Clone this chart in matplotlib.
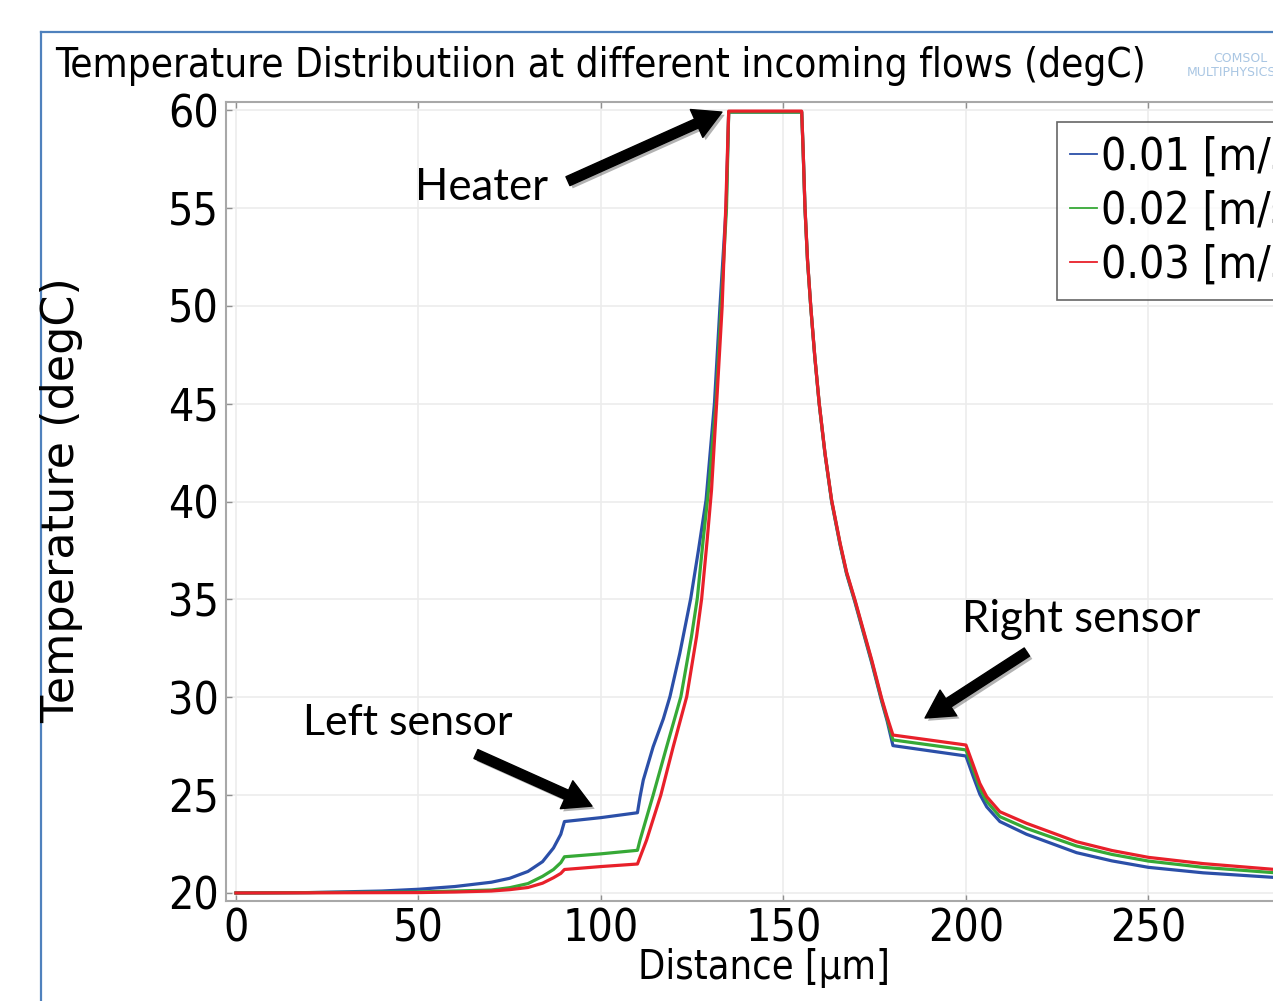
import matplotlib
matplotlib.use('Agg')
import matplotlib.pyplot as plt
import matplotlib.patheffects as pe
from matplotlib import font_manager
from matplotlib.font_manager import FontProperties
from matplotlib.lines import Line2D

# series data (x in µm, T in degC)
x_blue = [0, 20, 40, 50, 60, 70, 75, 80, 84, 87, 89, 90, 100, 110,
          110.7, 111.6, 114.3, 117.1, 118.9, 121.6, 124.6, 126.7, 128.8,
          131.1, 132.6, 134.3, 135,
          155, 155.4, 155.9, 156.6, 157.5, 158.6, 159.8, 161.4, 163.2, 165.5,
          167.3, 169.6, 171.9, 174.2, 176.9, 178.4, 180,
          200, 202, 203.8, 205.7, 209.3, 216.6, 230.3, 240, 250, 265, 284.1, 300]
t_blue = [20, 20.02, 20.1, 20.19, 20.33, 20.55, 20.75, 21.1, 21.6, 22.3, 23.0, 23.65, 23.85, 24.1,
          24.9, 25.77, 27.47, 28.9, 30.03, 32.24, 35.05, 37.5, 40.08,
          45.03, 49.94, 55.05, 59.9,
          59.9, 57.9, 55.0, 52.3, 49.9, 47.35, 44.98, 42.4, 40.0, 37.8,
          36.3, 34.85, 33.3, 31.75, 29.8, 28.8, 27.53,
          27.0, 25.95, 25.05, 24.4, 23.65, 23.0, 22.06, 21.64, 21.31, 21.03, 20.8, 20.65]

x_green = [0, 50, 60, 70, 75, 80, 84, 87, 89, 90, 100, 110,
           110.7, 114.3, 118.0, 121.9, 124.8, 126.4, 128.0, 129.6, 131.5, 132.9, 134.4, 135,
           155, 155.4, 155.9, 156.6, 157.5, 158.6, 159.8, 161.4, 163.2, 165.5,
           167.3, 169.6, 171.9, 174.2, 176.9, 178.4, 180,
           200, 202, 203.8, 205.7, 209.3, 216.6, 230.3, 240, 250, 265, 284.1, 300]
t_green = [20, 20.05, 20.1, 20.15, 20.27, 20.48, 20.85, 21.2, 21.55, 21.85, 22.0, 22.18,
           22.7, 25.0, 27.47, 30.03, 33.1, 35.05, 38.03, 40.8, 45.0, 49.9, 55.0, 59.9,
           59.9, 57.9, 55.0, 52.3, 49.9, 47.38, 45.0, 42.43, 40.04, 37.85,
           36.35, 34.92, 33.37, 31.83, 29.88, 28.9, 27.82,
           27.31, 26.3, 25.35, 24.68, 23.9, 23.3, 22.4, 21.97, 21.63, 21.31, 21.04, 20.9]

x_red = [0, 50, 60, 70, 75, 80, 84, 87, 89, 90, 100, 110,
         112.5, 116.4, 119.8, 123.5, 126.2, 127.6, 129.1, 130.3, 131.7, 133.2, 134.2, 135,
         155, 155.4, 155.9, 156.6, 157.5, 158.6, 159.8, 161.4, 163.2, 165.5,
         167.3, 169.6, 171.9, 174.2, 176.9, 178.4, 180,
         200, 202, 203.8, 205.7, 209.3, 216.6, 230.3, 240, 250, 265, 284.1, 300]
t_red = [20, 20.02, 20.05, 20.1, 20.17, 20.28, 20.5, 20.78, 21.0, 21.2, 21.35, 21.48,
         22.7, 25.0, 27.47, 30.03, 33.1, 35.05, 38.03, 40.6, 45.03, 49.94, 55.05, 59.95,
         59.95, 57.96, 55.05, 52.34, 49.94, 47.4, 45.03, 42.46, 40.08, 37.9,
         36.4, 34.97, 33.43, 31.9, 29.95, 29.0, 28.07,
         27.56, 26.54, 25.6, 24.92, 24.15, 23.56, 22.62, 22.17, 21.82, 21.5, 21.21, 21.05]

labels = ['0.01 [m/s]', '0.02 [m/s]', '0.03 [m/s]']
colors = ['#2b4fa8', '#36a936', '#e8202a']
xticks = [0, 50, 100, 150, 200, 250, 300]
yticks = [20, 25, 30, 35, 40, 45, 50, 55, 60]

# narrow face for ticks / title, as in the COMSOL export
cond_path = font_manager.findfont(FontProperties(family='DejaVu Sans', stretch='condensed'))
if 'Condensed' in cond_path:
    narrow = dict(family='DejaVu Sans', stretch='condensed')
else:
    narrow = dict(family='Liberation Sans')

fig = plt.figure(figsize=(12.73, 10.01), dpi=100)
ax = fig.add_axes([0.1775, 0.0999, 0.868, 0.7981])

for xs, ts, c, lab in zip([x_blue, x_green, x_red], [t_blue, t_green, t_red], colors, labels):
    ax.plot(xs, ts, color=c, lw=2.3, label=lab)

ax.set_xlim(-2.74, 300)
ax.set_ylim(19.59, 60.41)
ax.set_xticks(xticks)
ax.set_yticks(yticks)
ax.grid(True, color='#ececec', lw=1.2)
ax.set_axisbelow(True)
for s in ax.spines.values():
    s.set_color('#a8a8a8')
    s.set_linewidth(1.5)
ax.tick_params(direction='in', length=4, width=1, color='#909090',
               top=True, right=True, labelsize=32, pad=5)
for lbl in ax.get_xticklabels() + ax.get_yticklabels():
    lbl.set_fontproperties(FontProperties(size=32, **narrow))

# legend (cut at the right edge like the reference)
leg = ax.legend(loc='upper left', bbox_to_anchor=(1057 / 1273, 1 - 122 / 1001),
                bbox_transform=fig.transFigure, borderaxespad=0,
                prop=FontProperties(size=32, **narrow), frameon=True, fancybox=False,
                handlelength=0.6, handletextpad=0.1, labelspacing=0.25,
                borderpad=0.3)
leg.get_frame().set_edgecolor('#404040')
leg.get_frame().set_linewidth(1.2)
for h in leg.get_lines():
    h.set_linewidth(1.3)

# annotations
ann_font = 'Lato'
ax.text(49.04, 55.40, 'Heater', fontsize=31.5, family=ann_font, va='baseline')
ax.text(18.36, 28.07, 'Left sensor', fontsize=31, family=ann_font, va='baseline')
ax.text(198.9, 33.33, 'Right sensor', fontsize=31.5, family=ann_font, va='baseline')

arrow_kw = dict(facecolor='black', edgecolor='black', width=7, headwidth=22,
                headlength=20, shrink=0)
shadow = [pe.SimplePatchShadow(offset=(2, -2), alpha=0.3), pe.Normal()]
for tail, head in [((90.96, 56.37), (133.15, 59.90)),
                   ((65.75, 27.10), (97.53, 24.44)),
                   ((216.7, 32.31), (188.8, 28.94))]:
    a = ax.annotate('', xy=head, xytext=tail, arrowprops=arrow_kw)
    a.arrow_patch.set_path_effects(shadow)

# titles and axis labels
title = fig.text(55 / 1273, 1 - 77 / 1001,
                 'Temperature Distributiion at different incoming flows (degC)',
                 fontproperties=FontProperties(size=35, **narrow), va='baseline', ha='left')
xlab = fig.text(764 / 1273, 1 - 968 / 1001, 'Distance [µm]',
                fontproperties=FontProperties(size=36, **narrow), ha='center', va='center')
fig.text(62 / 1273, 1 - 500 / 1001, 'Temperature (degC)', family='DejaVu Sans',
         fontsize=32, rotation=90, ha='center', va='center')

# shrink the title / x label so they span the same width as in the reference
renderer = fig.canvas.get_renderer()
for t, target in [(title, 1090), (xlab, 252)]:
    w = t.get_window_extent(renderer).width
    if w > target:
        t.set_fontsize(t.get_fontsize() * target / w)

# COMSOL mark
fig.text(1268 / 1273, 1 - 59 / 1001, 'COMSOL', color='#a9c6e3', fontsize=9,
         ha='right', va='center', family='DejaVu Sans')
fig.text(1276 / 1273, 1 - 73 / 1001, 'MULTIPHYSICS', color='#a9c6e3', fontsize=9,
         ha='right', va='center', family='DejaVu Sans')

# outer frame (blue)
fig.add_artist(Line2D([41 / 1273, 41 / 1273], [0, 1 - 32 / 1001],
                      transform=fig.transFigure, color='#4f81bd', lw=1.6))
fig.add_artist(Line2D([41 / 1273, 1], [1 - 32 / 1001, 1 - 32 / 1001],
                      transform=fig.transFigure, color='#4f81bd', lw=1.6))

fig.savefig('out.png', dpi=100)
